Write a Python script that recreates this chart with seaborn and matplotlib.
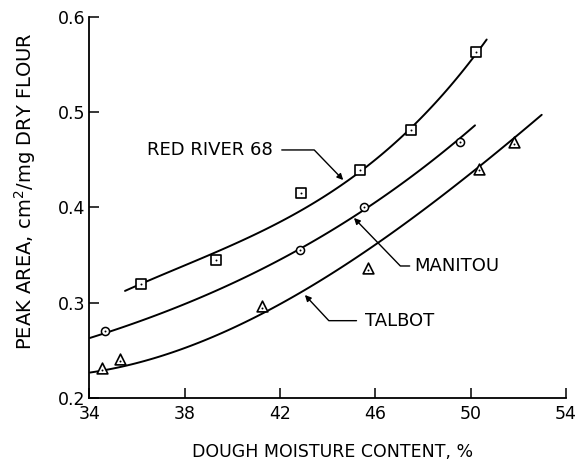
import matplotlib
matplotlib.use("Agg")
import matplotlib.pyplot as plt
import seaborn as sns

# ---- measured points ----
red_x = [36.16, 39.31, 42.87, 45.35, 47.49, 50.22]
red_y = [0.320, 0.345, 0.415, 0.439, 0.481, 0.563]
man_x = [34.65, 42.85, 45.52, 49.55]
man_y = [0.270, 0.355, 0.400, 0.469]
tal_x = [34.51, 35.28, 41.25, 45.69, 50.34, 51.83]
tal_y = [0.231, 0.241, 0.296, 0.336, 0.441, 0.469]

# ---- fitted curves ----
red_cx = [35.49, 38.08, 40.87, 42.97, 44.65, 47.03, 48.71, 50.11, 50.67]
red_cy = [0.3132, 0.3385, 0.3693, 0.3991, 0.4289, 0.4710, 0.5131, 0.5551, 0.5803]
man_cx = [34.02, 36.82, 39.61, 42.41, 44.09, 45.07, 47.03, 48.71, 50.18]
man_cy = [0.2625, 0.2870, 0.3175, 0.3511, 0.3729, 0.3869, 0.4254, 0.4604, 0.4833]
tal_cx = [34.02, 36.82, 39.61, 42.41, 44.09, 44.93, 47.03, 49.12, 50.67, 51.78, 52.98]
tal_cy = [0.2257, 0.2431, 0.2712, 0.3027, 0.3256, 0.3413, 0.3834, 0.4219, 0.4465, 0.4710, 0.4983]

x_ticks = [34, 38, 42, 46, 50, 54]
y_ticks = [0.2, 0.3, 0.4, 0.5, 0.6]

sns.set_theme(style="white")
plt.rcParams['font.family'] = ['DejaVu Sans']
plt.rcParams['text.color'] = 'black'

fig = plt.figure(figsize=(5.8, 4.61), dpi=100)
ax = fig.add_axes([0.1543, 0.1373, 0.8216, 0.8252])

for cx, cy in [(red_cx, red_cy), (man_cx, man_cy), (tal_cx, tal_cy)]:
    sns.regplot(x=cx, y=cy, ax=ax, order=3, ci=None, scatter=False, truncate=True,
                line_kws=dict(color="black", lw=1.4))

sns.scatterplot(x=red_x, y=red_y, ax=ax, marker="s", s=42, facecolor="white",
                edgecolor="black", linewidth=1.2, zorder=5)
sns.scatterplot(x=man_x, y=man_y, ax=ax, marker="o", s=34, facecolor="white",
                edgecolor="black", linewidth=1.1, zorder=5)
sns.scatterplot(x=tal_x, y=tal_y, ax=ax, marker="^", s=60, facecolor="white",
                edgecolor="black", linewidth=1.2, zorder=5)
all_x = red_x + man_x + tal_x
all_y = red_y + man_y + [v - 0.002 for v in tal_y]
sns.scatterplot(x=all_x, y=all_y, ax=ax, marker="o", s=2, color="black",
                linewidth=0, zorder=6)

ax.set_xlim(34, 54)
ax.set_ylim(0.2, 0.6)
ax.set_xticks(x_ticks)
ax.set_yticks(y_ticks)
ax.set_xticklabels([str(t) for t in x_ticks])
ax.set_yticklabels([f"{t:.1f}" for t in y_ticks])
ax.tick_params(direction="in", length=7, width=1.1, colors="black", labelsize=12.5)
ax.tick_params(axis="x", pad=5)
ax.tick_params(axis="y", pad=3)
ax.tick_params(bottom=True, left=True)
for s in ["top", "right"]:
    ax.spines[s].set_visible(False)
for s in ["left", "bottom"]:
    ax.spines[s].set_color("black")
    ax.spines[s].set_linewidth(1.3)

ax.set_xlabel("DOUGH MOISTURE CONTENT, %", fontsize=12.5, color="black", va="center")
ax.set_ylabel("PEAK AREA, cm$^2$/mg DRY FLOUR", fontsize=14, color="black", va="center")
ax.xaxis.set_label_coords(0.511, -0.142)
ax.yaxis.set_label_coords(-0.135, 0.543)

arrow = dict(arrowstyle="-|>", color="black", lw=1.0, mutation_scale=9,
             shrinkA=4, shrinkB=0)
ax.annotate("RED RIVER 68", xy=(44.65, 0.4289), xytext=(39.06, 0.4605),
            fontsize=13, ha="center", va="center", color="black",
            arrowprops=dict(arrow, connectionstyle="angle,angleA=0,angleB=-46,rad=0"))
ax.annotate("MANITOU", xy=(45.10, 0.389), xytext=(49.42, 0.3385),
            fontsize=13, ha="center", va="center", color="black",
            arrowprops=dict(arrow, shrinkA=1, connectionstyle="angle,angleA=180,angleB=134,rad=0"))
ax.annotate("TALBOT", xy=(43.04, 0.308), xytext=(47.03, 0.281),
            fontsize=13, ha="center", va="center", color="black",
            arrowprops=dict(arrow, connectionstyle="angle,angleA=180,angleB=133,rad=0"))

fig.savefig("out.png", dpi=100, facecolor="white")
